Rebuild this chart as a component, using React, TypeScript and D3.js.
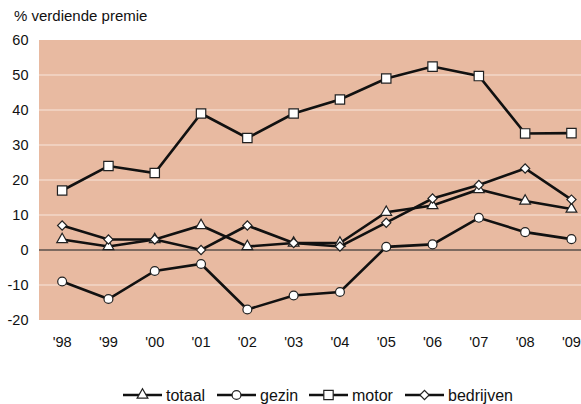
import React from "react"
import * as d3 from "d3"

const years = ["'98", "'99", "'00", "'01", "'02", "'03", "'04", "'05", "'06", "'07", "'08", "'09"]
const totaal = [3, 1, 3, 7, 1, 2, 2, 10.8, 12.7, 17.3, 14, 11.7]
const gezin = [-9, -14, -6, -4, -17, -13, -12, 0.9, 1.6, 9.2, 5.1, 3.1]
const motor = [17, 24, 22, 39, 32, 39, 43, 49, 52.4, 49.7, 33.3, 33.4]
const bedrijven = [7, 3, 3, 0, 7, 2, 1, 7.8, 14.7, 18.6, 23.3, 14.4]
const yTicks = [60, 50, 40, 30, 20, 10, 0, -10, -20]

const seriesNames = ["totaal", "gezin", "motor", "bedrijven"]
const seriesData = [totaal, gezin, motor, bedrijven]
const seriesShapes = [d3.symbolTriangle, d3.symbolCircle, d3.symbolSquare, d3.symbolSquare]
const shapeSizes = [50, 62, 88, 42]
const shapeRot = [0, 0, 0, 45]

export default function App() {
    const width = 581, height = 404
    const left = 39, top = 40, bottom = 320

    const x = d3.scaleBand().domain(years).range([left, left + 12 * 46.3])
    const y = d3.scaleLinear().domain([-20, 60]).range([bottom, top])
    const cx = (yr: string) => x(yr)! + x.bandwidth() / 2

    const line = d3.line<number>()
        .x((d, i) => cx(years[i]))
        .y(d => y(d))

    const font = "'Liberation Sans', Arial, sans-serif"
    const legendX = [123, 217, 309, 405]

    return (
        <svg width={width} height={height} style={{position: "absolute", left: 0, top: 0}} fontFamily={font}>
            <text x={14} y={21} fontSize={15} fill="#111">% verdiende premie</text>
            <rect x={left} y={top} width={width - left} height={bottom - top} fill="#e8baa1" />
            {yTicks.filter(t => t !== 0 && t !== -20 && t !== 60).map(t => (
                <line key={t} x1={left} x2={width} y1={y(t)} y2={y(t)} stroke="#f8e6dc" strokeWidth={1} />
            ))}
            <line x1={left} x2={width} y1={y(0)} y2={y(0)} stroke="#7d6a60" strokeWidth={2} />
            {yTicks.map(t => (
                <text key={t} x={28.5} y={y(t) + 5} fontSize={14.5} textAnchor="end" fill="#111">{t}</text>
            ))}
            {years.map(yr => (
                <text key={yr} x={cx(yr)} y={347} fontSize={14.6} textAnchor="middle" fill="#111">{yr}</text>
            ))}
            {seriesData.map((s, k) => (
                <g key={seriesNames[k]}>
                    <path d={line(s)!} fill="none" stroke="#111" strokeWidth={2.6} />
                    {s.map((v, i) => (
                        <path key={i}
                            d={d3.symbol().type(seriesShapes[k]).size(shapeSizes[k])()!}
                            transform={`translate(${cx(years[i])},${y(v)}) rotate(${shapeRot[k]})`}
                            fill="#fff" stroke="#222" strokeWidth={1.2} />
                    ))}
                </g>
            ))}
            {seriesNames.map((n, k) => (
                <g key={n} transform={`translate(${legendX[k]},395)`}>
                    <line x1={0} x2={39} y1={0} y2={0} stroke="#111" strokeWidth={2.6} />
                    <path d={d3.symbol().type(seriesShapes[k]).size(shapeSizes[k])()!}
                        transform={`translate(19.5,0) rotate(${shapeRot[k]})`} fill="#fff" stroke="#222" strokeWidth={1.2} />
                    <text x={43} y={5.5} fontSize={16} fill="#111">{n}</text>
                </g>
            ))}
        </svg>
    )
}
